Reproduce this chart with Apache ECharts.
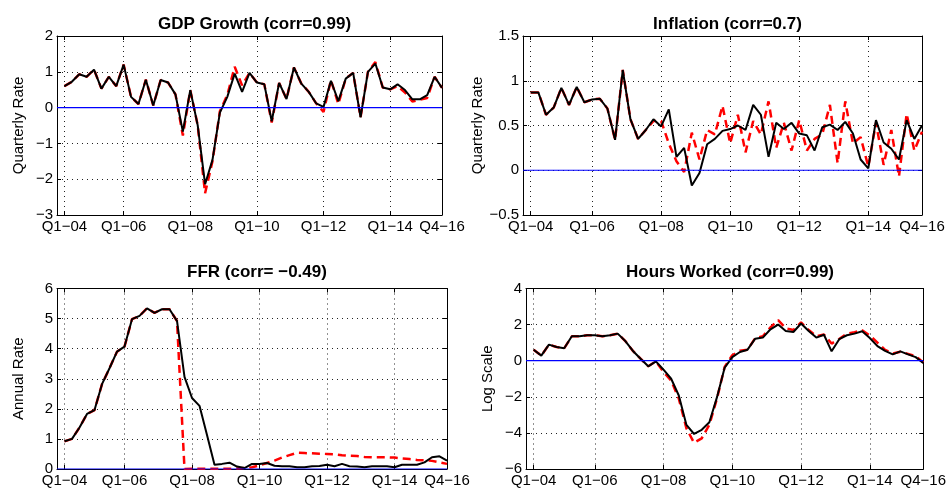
<!DOCTYPE html>
<html><head><meta charset="utf-8">
<script src="https://cdn.jsdelivr.net/npm/echarts@6/dist/echarts.min.js"></script>
<style>html,body{margin:0;padding:0;background:#fff}#c{width:949px;height:491px}</style>
</head><body><div id="c"></div>
<script>
// Quarter positions of the x-axis ticks and their labels
const xTickValues = [1, 9, 18, 27, 36, 45, 52];
const xTickLabels = ['Q1\u221204', 'Q1\u221206', 'Q1\u221208', 'Q1\u221210', 'Q1\u221212', 'Q1\u221214', 'Q4\u221216'];
const xRange = [0, 52];

// GDP growth, quarterly rate
const gdpData = [0.60,0.72,0.93,0.86,1.06,0.53,0.86,0.60,1.20,0.30,
  0.10,0.78,0.06,0.77,0.70,0.37,-0.67,0.49,-0.49,-2.14,
  -1.46,-0.14,0.30,0.95,0.44,0.97,0.70,0.65,-0.38,0.69,
  0.24,1.12,0.67,0.44,0.12,0.02,0.75,0.18,0.81,0.97,
  -0.27,1.00,1.23,0.56,0.51,0.65,0.49,0.23,0.23,0.35,
  0.86,0.55];
const gdpModel = [0.60,0.72,0.93,0.86,1.06,0.53,0.86,0.60,1.20,0.30,
  0.10,0.78,0.06,0.77,0.70,0.37,-0.78,0.49,-0.49,-2.39,
  -1.50,-0.10,0.35,1.14,0.62,0.97,0.70,0.65,-0.42,0.69,
  0.24,1.12,0.67,0.44,0.12,-0.12,0.77,0.10,0.81,0.97,
  -0.27,1.00,1.27,0.56,0.51,0.60,0.42,0.17,0.22,0.27,
  0.86,0.55];

// Inflation, quarterly rate
const inflData = [0.87,0.87,0.62,0.70,0.92,0.73,0.93,0.76,0.79,0.80,
  0.69,0.34,1.12,0.57,0.35,0.45,0.57,0.49,0.68,0.15,
  0.25,-0.17,-0.03,0.29,0.35,0.44,0.46,0.50,0.45,0.73,
  0.62,0.15,0.53,0.46,0.53,0.41,0.39,0.22,0.48,0.51,
  0.45,0.54,0.41,0.12,0.02,0.56,0.31,0.24,0.12,0.56,
  0.35,0.50];
const inflModel = [0.87,0.87,0.62,0.70,0.92,0.73,0.93,0.76,0.79,0.80,
  0.69,0.34,1.12,0.57,0.35,0.45,0.55,0.55,0.30,0.10,
  -0.02,0.42,0.12,0.45,0.40,0.72,0.30,0.62,0.20,0.55,
  0.40,0.77,0.25,0.53,0.22,0.56,0.22,0.35,0.40,0.73,
  0.08,0.77,0.30,0.37,0.04,0.53,0.06,0.45,-0.07,0.63,
  0.22,0.43];

// Federal funds rate, annual rate
const ffrData = [0.92,1.00,1.38,1.83,1.96,2.82,3.35,3.90,4.07,4.98,
  5.09,5.34,5.19,5.31,5.31,4.92,3.06,2.36,2.10,1.13,
  0.14,0.17,0.21,0.08,0.03,0.17,0.17,0.20,0.11,0.09,
  0.09,0.06,0.06,0.09,0.10,0.14,0.09,0.17,0.09,0.08,
  0.06,0.09,0.09,0.09,0.06,0.14,0.14,0.14,0.22,0.39,
  0.42,0.28];
const ffrModel = [0.92,1.00,1.38,1.83,1.96,2.82,3.35,3.90,4.07,4.98,
  5.09,5.34,5.19,5.31,5.31,4.92,0.00,0.01,0.01,0.01,
  0.01,0.01,0.01,0.02,0.03,0.06,0.12,0.20,0.28,0.38,
  0.46,0.54,0.53,0.52,0.51,0.50,0.49,0.46,0.44,0.43,
  0.40,0.39,0.39,0.39,0.38,0.35,0.33,0.30,0.29,0.27,
  0.22,0.17];

// Hours worked, log scale
const hoursData = [0.61,0.28,0.89,0.76,0.69,1.35,1.35,1.41,1.41,1.35,
  1.41,1.50,1.09,0.54,0.11,-0.31,-0.04,-0.50,-1.00,-1.93,
  -3.56,-4.06,-3.83,-3.41,-2.02,-0.39,0.20,0.48,0.61,1.22,
  1.28,1.74,2.00,1.65,1.59,2.06,1.65,1.28,1.44,0.52,
  1.19,1.41,1.50,1.63,1.26,0.81,0.54,0.35,0.52,0.35,
  0.20,-0.13];
const hoursModel = [0.61,0.28,0.89,0.76,0.69,1.35,1.35,1.41,1.41,1.35,
  1.41,1.50,1.09,0.54,0.11,-0.31,-0.04,-0.62,-1.10,-2.10,
  -3.75,-4.55,-4.30,-3.55,-2.10,-0.35,0.30,0.55,0.61,1.25,
  1.35,1.85,2.25,1.80,1.70,2.12,1.70,1.35,1.45,0.95,
  1.20,1.50,1.58,1.68,1.40,1.00,0.60,0.40,0.50,0.38,
  0.25,-0.10];

const FONT = '"Liberation Sans", Arial, Helvetica, sans-serif';
const panels = [
  {title: 'GDP Growth (corr=0.99)', yName: 'Quarterly Rate', ymin: -3, ymax: 2, yint: 1, data: gdpData, model: gdpModel,
   grid: {left: 57, top: 36, width: 385, height: 179}, titleTop: 11},
  {title: 'Inflation (corr=0.7)', yName: 'Quarterly Rate', ymin: -0.5, ymax: 1.5, yint: 0.5, data: inflData, model: inflModel,
   grid: {left: 523, top: 36, width: 399, height: 179}, titleTop: 11},
  {title: 'FFR (corr= \u22120.49)', yName: 'Annual Rate', ymin: 0, ymax: 6, yint: 1, data: ffrData, model: ffrModel,
   grid: {left: 57, top: 288.5, width: 390, height: 180.5}, titleTop: 259},
  {title: 'Hours Worked (corr=0.99)', yName: 'Log Scale', ymin: -6, ymax: 4, yint: 2, data: hoursData, model: hoursModel,
   grid: {left: 526, top: 288.5, width: 398, height: 180.5}, titleTop: 259}
];

const fmtNum = v => (v < 0 ? '\u2212' + Math.abs(v) : String(v));
const fmtX = v => { const k = xTickValues.indexOf(v); return k >= 0 ? xTickLabels[k] : ''; };
const toXY = arr => arr.map((v, i) => [i + 1, v]);
const axLine = () => ({show: true, onZero: false, lineStyle: {color: '#000', width: 1}});
const tick = (extra) => Object.assign({show: true, inside: true, length: 4, lineStyle: {color: '#000', width: 1}}, extra || {});
const gridLine = () => ({show: true, lineStyle: {color: '#222', width: 1, type: [1, 4]}});

const option = {
  animation: false,
  backgroundColor: '#fff',
  textStyle: {fontFamily: FONT},
  title: [], grid: [], xAxis: [], yAxis: [], series: []
};

panels.forEach((p, k) => {
  const g = p.grid;
  option.grid.push({left: g.left, top: g.top, width: g.width, height: g.height, containLabel: false});
  option.title.push({
    text: p.title, left: g.left + g.width / 2, top: p.titleTop, textAlign: 'center',
    textStyle: {fontFamily: FONT, fontWeight: 'bold', fontSize: 17, color: '#000'}
  });
  option.xAxis.push({
    type: 'value', gridIndex: k, min: xRange[0], max: xRange[1], position: 'bottom',
    axisLine: axLine(),
    axisTick: tick({customValues: xTickValues}),
    axisLabel: {customValues: xTickValues, formatter: fmtX, color: '#000', fontSize: 15, margin: 4, fontFamily: FONT, showMinLabel: true, showMaxLabel: true},
    splitLine: gridLine()
  });
  option.xAxis.push({
    type: 'value', gridIndex: k, min: xRange[0], max: xRange[1], position: 'top',
    axisLine: axLine(),
    axisTick: tick({customValues: xTickValues}),
    axisLabel: {show: false}, splitLine: {show: false}
  });
  option.yAxis.push({
    type: 'value', gridIndex: k, min: p.ymin, max: p.ymax, interval: p.yint, position: 'left',
    name: p.yName, nameLocation: 'middle', nameGap: 31,
    nameTextStyle: {fontFamily: FONT, fontSize: 15, color: '#000'},
    axisLine: axLine(), axisTick: tick(),
    axisLabel: {formatter: fmtNum, color: '#000', fontSize: 15, margin: 4, fontFamily: FONT},
    splitLine: gridLine()
  });
  option.yAxis.push({
    type: 'value', gridIndex: k, min: p.ymin, max: p.ymax, interval: p.yint, position: 'right',
    axisLine: axLine(), axisTick: tick(), axisLabel: {show: false}, splitLine: {show: false}
  });
  option.series.push({
    type: 'line', xAxisIndex: 2 * k, yAxisIndex: 2 * k, data: toXY(p.model),
    showSymbol: false, symbol: 'none', z: 2,
    lineStyle: {color: '#ff0000', width: 2.5, type: [8, 5]}
  });
  option.series.push({
    type: 'line', xAxisIndex: 2 * k, yAxisIndex: 2 * k, data: toXY(p.data),
    showSymbol: false, symbol: 'none', z: 3,
    lineStyle: {color: '#000', width: 2}
  });
  // horizontal reference line at zero across the full x range
  option.series.push({
    type: 'line', xAxisIndex: 2 * k, yAxisIndex: 2 * k, data: xRange.map(x => [x, 0]),
    showSymbol: false, symbol: 'none', z: 4, silent: true,
    lineStyle: {color: '#0000ff', width: 1.2}
  });
});

const chart = echarts.init(document.getElementById('c'), null, {renderer: 'canvas'});
chart.setOption(option);
</script>
</body></html>
